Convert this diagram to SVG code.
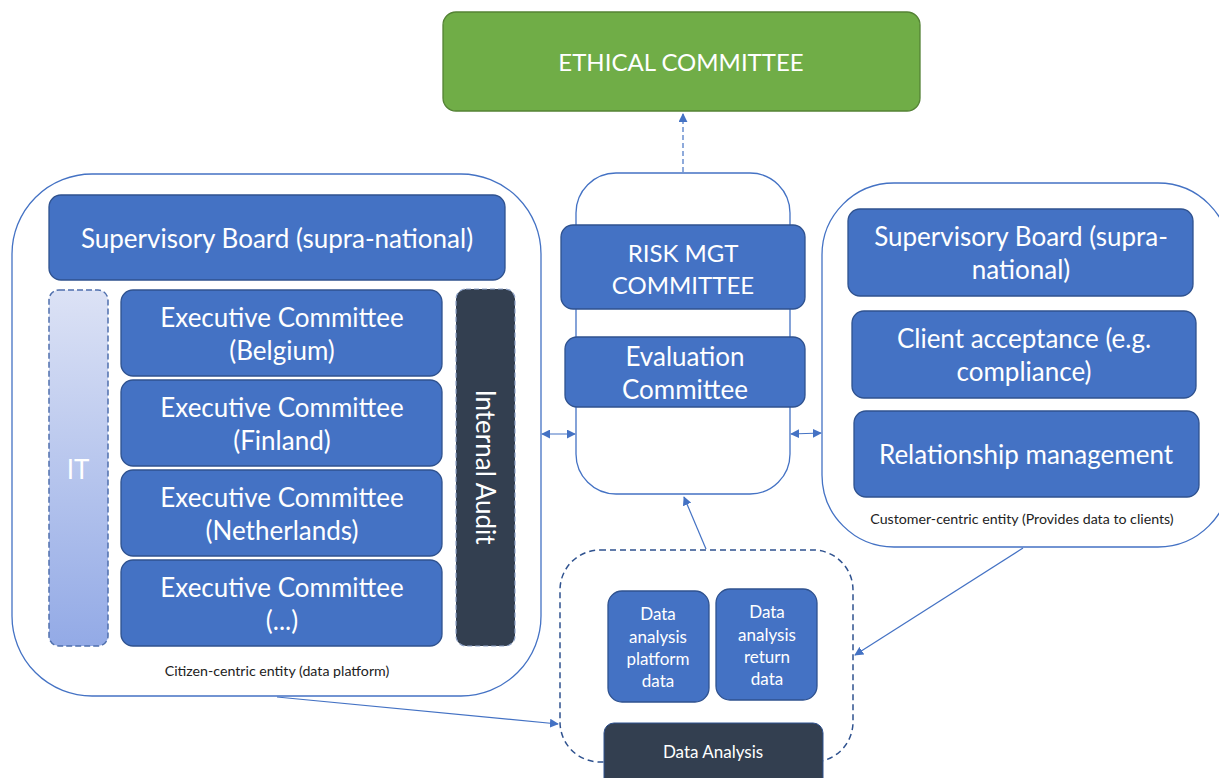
<svg xmlns="http://www.w3.org/2000/svg" width="1219" height="778" viewBox="0 0 1219 778">
  <defs>
    <style>
      .box { fill: #4472C4; stroke: #2F528F; stroke-width: 1.3; }
      .dark { fill: #333F50; }
      .frame { fill: #FFFFFF; stroke: #4472C4; stroke-width: 1.3; }
      .t { font-family: Lato, "Liberation Sans", sans-serif; fill: #FFFFFF; text-anchor: middle; }
      .caps { font-size: 24px; }
      .big { font-size: 26px; }
      .mid { font-size: 17px; }
      .cap { font-family: Lato, "Liberation Sans", sans-serif; font-size: 14.2px; fill: #222222; text-anchor: middle; }
      .conn { stroke: #4472C4; stroke-width: 1.2; fill: none; }
    </style>
    <linearGradient id="itGrad" x1="0" y1="0" x2="0" y2="1">
      <stop offset="0" stop-color="#DCE2F5"/>
      <stop offset="1" stop-color="#93AAE6"/>
    </linearGradient>
    <marker id="arr" viewBox="0 0 10 10" refX="9" refY="5" markerWidth="9" markerHeight="9" markerUnits="userSpaceOnUse" orient="auto-start-reverse">
      <path d="M0,0 L10,5 L0,10 Z" fill="#4472C4"/>
    </marker>
  </defs>

  <!-- top: ethical committee -->
  <g id="ethical">
    <rect x="443" y="12" width="477" height="99" rx="13" fill="#70AD47" stroke="#548235" stroke-width="1.3"/>
    <text class="t caps" x="681" y="71">ETHICAL COMMITTEE</text>
  </g>

  <!-- left entity -->
  <g id="citizen-entity">
    <rect class="frame" x="12" y="174" width="529" height="522" rx="80"/>
    <text class="cap" x="277" y="676">Citizen-centric entity (data platform)</text>
  </g>
  <g id="sup-board-left">
    <rect class="box" x="49" y="195" width="456" height="85" rx="12"/>
    <text class="t big" x="277" y="248">Supervisory Board (supra-national)</text>
  </g>
  <g id="it">
    <rect x="49" y="290" width="59" height="356" rx="10" fill="url(#itGrad)" stroke="#4F6FAD" stroke-width="1.5" stroke-dasharray="6 3"/>
    <text class="t big" x="78" y="479">IT</text>
  </g>
  <g id="exec-be">
    <rect class="box" x="121" y="290" width="321" height="86" rx="12"/>
    <text class="t big" x="282" y="327">Executive Committee</text>
    <text class="t big" x="282" y="360">(Belgium)</text>
  </g>
  <g id="exec-fi">
    <rect class="box" x="121" y="380" width="321" height="86" rx="12"/>
    <text class="t big" x="282" y="417">Executive Committee</text>
    <text class="t big" x="282" y="450">(Finland)</text>
  </g>
  <g id="exec-nl">
    <rect class="box" x="121" y="470" width="321" height="86" rx="12"/>
    <text class="t big" x="282" y="507">Executive Committee</text>
    <text class="t big" x="282" y="540">(Netherlands)</text>
  </g>
  <g id="exec-other">
    <rect class="box" x="121" y="560" width="321" height="86" rx="12"/>
    <text class="t big" x="282" y="597">Executive Committee</text>
    <text class="t big" x="282" y="630">(...)</text>
  </g>
  <g id="internal-audit">
    <rect class="dark" x="456" y="289" width="59" height="357" rx="10" stroke="#8FA3C8" stroke-width="1.2" stroke-dasharray="5 3"/>
    <text class="t big" transform="translate(476,467) rotate(90)" x="0" y="0">Internal Audit</text>
  </g>

  <!-- centre: risk management -->
  <g id="risk-frame">
    <rect class="frame" x="576" y="173" width="214" height="321" rx="40"/>
  </g>
  <g id="risk-mgt">
    <rect class="box" x="561" y="225" width="244" height="84" rx="12"/>
    <text class="t caps" x="683" y="262">RISK MGT</text>
    <text class="t caps" x="683" y="294">COMMITTEE</text>
  </g>
  <g id="evaluation">
    <rect class="box" x="565" y="337" width="240" height="70" rx="12"/>
    <text class="t big" x="685" y="366">Evaluation</text>
    <text class="t big" x="685" y="399">Committee</text>
  </g>

  <!-- right entity -->
  <g id="customer-entity">
    <rect class="frame" x="822" y="183" width="408" height="364" rx="72"/>
    <text class="cap" x="1022" y="524">Customer-centric entity (Provides data to clients)</text>
  </g>
  <g id="sup-board-right">
    <rect class="box" x="848" y="209" width="345" height="87" rx="12"/>
    <text class="t big" x="1021" y="246">Supervisory Board (supra-</text>
    <text class="t big" x="1021" y="279">national)</text>
  </g>
  <g id="client-acceptance">
    <rect class="box" x="852" y="311" width="344" height="87" rx="12"/>
    <text class="t big" x="1024" y="348">Client acceptance (e.g.</text>
    <text class="t big" x="1024" y="381">compliance)</text>
  </g>
  <g id="relationship">
    <rect class="box" x="854" y="411" width="345" height="86" rx="12"/>
    <text class="t big" x="1026" y="464">Relationship management</text>
  </g>

  <!-- bottom: data analysis -->
  <g id="analysis-frame">
    <rect x="560" y="550" width="293" height="212" rx="40" fill="none" stroke="#2F528F" stroke-width="1.5" stroke-dasharray="6 4"/>
  </g>
  <g id="platform-data">
    <rect class="box" x="608" y="591" width="101" height="111" rx="14"/>
    <text class="t mid" x="658" y="620">Data</text>
    <text class="t mid" x="658" y="643">analysis</text>
    <text class="t mid" x="658" y="665">platform</text>
    <text class="t mid" x="658" y="687">data</text>
  </g>
  <g id="return-data">
    <rect class="box" x="716" y="589" width="101" height="111" rx="14"/>
    <text class="t mid" x="767" y="618">Data</text>
    <text class="t mid" x="767" y="641">analysis</text>
    <text class="t mid" x="767" y="663">return</text>
    <text class="t mid" x="767" y="685">data</text>
  </g>
  <g id="data-analysis">
    <rect class="dark" x="604" y="723" width="219" height="70" rx="10" stroke="#2F528F" stroke-width="1"/>
    <text class="t" x="713" y="758" font-size="17">Data Analysis</text>
  </g>

  <!-- connectors -->
  <g id="connectors">
    <line class="conn" x1="683" y1="172" x2="683" y2="114" stroke-dasharray="5 3" marker-end="url(#arr)"/>
    <line class="conn" x1="542" y1="434" x2="575" y2="434" marker-start="url(#arr)" marker-end="url(#arr)"/>
    <line class="conn" x1="791" y1="434" x2="821" y2="433" marker-start="url(#arr)" marker-end="url(#arr)"/>
    <line class="conn" x1="706" y1="549" x2="684" y2="497" marker-end="url(#arr)"/>
    <line class="conn" x1="277" y1="697" x2="558" y2="724" marker-end="url(#arr)"/>
    <line class="conn" x1="1023" y1="548" x2="855" y2="655" marker-end="url(#arr)"/>
  </g>
</svg>
